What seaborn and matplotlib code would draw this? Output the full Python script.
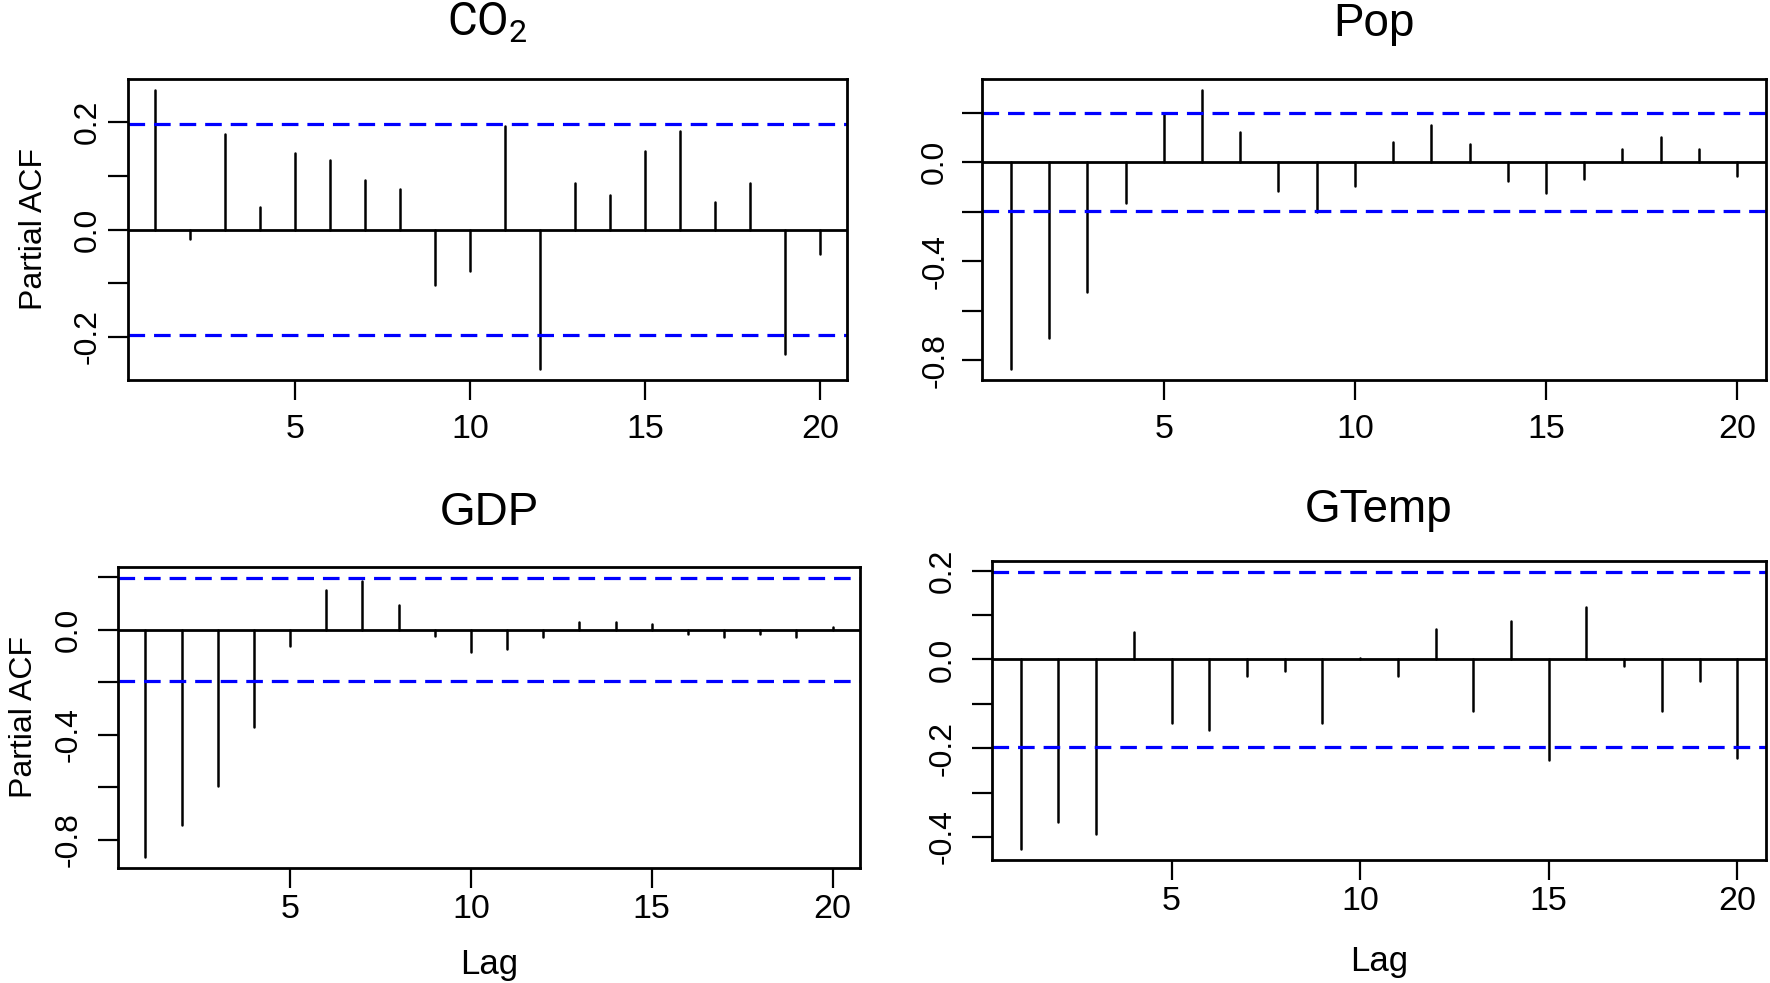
import numpy as np
import pandas as pd
import seaborn as sns
import matplotlib.pyplot as plt

# Partial autocorrelations, lags 1..20
lags = list(range(1, 21))
co2_pacf = [0.26, -0.017, 0.179, 0.042, 0.142, 0.129, 0.092, 0.075, -0.104, -0.078,
            0.193, -0.26, 0.087, 0.064, 0.147, 0.184, 0.051, 0.087, -0.233, -0.046]
pop_pacf = [-0.834, -0.711, -0.522, -0.164, 0.196, 0.291, 0.123, -0.115, -0.199, -0.095,
            0.083, 0.152, 0.073, -0.075, -0.126, -0.066, 0.054, 0.103, 0.054, -0.056]
gdp_pacf = [-0.866, -0.746, -0.594, -0.372, -0.062, 0.150, 0.187, 0.094, -0.025, -0.084,
            -0.072, -0.026, 0.031, 0.029, 0.021, -0.016, -0.026, -0.016, -0.026, 0.010]
gtemp_pacf = [-0.427, -0.366, -0.393, 0.062, -0.143, -0.160, -0.037, -0.026, -0.143, 0.003,
              -0.037, 0.068, -0.115, 0.086, -0.227, 0.119, -0.015, -0.115, -0.049, -0.222]
conf_limit = 0.197

titles = ['CO$_2$', 'Pop', 'GDP', 'GTemp']
x_ticks = [5, 10, 15, 20]
co2_yticks = [-0.2, -0.1, 0.0, 0.1, 0.2]
co2_ylabels = ['-0.2', '', '0.0', '', '0.2']
pop_yticks = [-0.8, -0.6, -0.4, -0.2, 0.0, 0.2]
pop_ylabels = ['-0.8', '', '-0.4', '', '0.0', '']
gdp_yticks = [-0.8, -0.6, -0.4, -0.2, 0.0, 0.2]
gdp_ylabels = ['-0.8', '', '-0.4', '', '0.0', '']
gtemp_yticks = [-0.4, -0.3, -0.2, -0.1, 0.0, 0.1, 0.2]
gtemp_ylabels = ['-0.4', '', '-0.2', '', '0.0', '', '0.2']

W, H = 1770, 983
regular = ['Liberation Sans', 'DejaVu Sans']

sns.set_theme(style='ticks')
plt.rcParams['font.family'] = regular
plt.rcParams['mathtext.fontset'] = 'custom'
plt.rcParams['mathtext.rm'] = 'Roboto'
plt.rcParams['mathtext.default'] = 'regular'

# layout: box (left, right, top, bottom px), ytick pad, xtick pad, title y, ylabel x, xlabel y
panels = [
    (co2_pacf, co2_yticks, co2_ylabels, (128, 847, 79, 380), 4, 10, 1.143, -0.131, None),
    (pop_pacf, pop_yticks, pop_ylabels, (982, 1766, 79, 380), 8.5, 10, 1.143, None, None),
    (gdp_pacf, gdp_yticks, gdp_ylabels, (118, 860, 567, 868), 10, 4, 1.14, -0.127, -0.352),
    (gtemp_pacf, gtemp_yticks, gtemp_ylabels, (992, 1766, 561, 860), 10, 4, 1.13, None, -0.371),
]

fig = plt.figure(figsize=(W / 100, H / 100), dpi=100)
fig.patch.set_facecolor('white')

for title, (vals, yt, yl, box, ypad, xpad, ty, ylx, xly) in zip(titles, panels):
    l, r, t, b = box
    ax = fig.add_axes([l / W, 1 - b / H, (r - l) / W, (b - t) / H])
    ax.set_facecolor('white')

    # each stem is one short line from 0 to the value
    df = pd.DataFrame({'lag': np.repeat(lags, 2),
                       'pacf': np.ravel([[0.0, v] for v in vals])})
    sns.lineplot(data=df, x='lag', y='pacf', units='lag', estimator=None,
                 sort=False, color='black', lw=1.8, ax=ax)
    ax.axhline(0, color='black', lw=2)
    for c in (conf_limit, -conf_limit):
        ax.axhline(c, color='#0000ff', lw=2.3, ls=(0, (5.2, 2.8)))

    lo = min(min(vals), -conf_limit)
    hi = max(max(vals), conf_limit)
    ext = 0.04 * (hi - lo)
    ax.set_ylim(lo - ext, hi + ext)
    ax.set_xlim(0.24, 20.76)

    ax.set_xticks(x_ticks)
    ax.set_xticklabels([str(v) for v in x_ticks], fontsize=24.5)
    ax.set_yticks(yt)
    ax.set_yticklabels(yl, rotation=90, va='center', fontsize=23)
    ax.tick_params(axis='both', length=14.4, width=1.6, color='black',
                   labelcolor='black', direction='out')
    ax.tick_params(axis='x', pad=xpad)
    ax.tick_params(axis='y', pad=ypad)
    for s in ax.spines.values():
        s.set_visible(True)
        s.set_linewidth(2)
        s.set_color('black')
    ax.grid(False)

    if title.startswith('CO'):
        ax.set_title(title, fontsize=33, y=ty, va='baseline', pad=0, color='black',
                     family=['Roboto', 'DejaVu Sans'])
    else:
        ax.set_title(title, fontsize=33, y=ty, va='baseline', pad=0, color='black')
    ax.set_ylabel('')
    ax.set_xlabel('')
    if ylx is not None:
        ax.text(ylx, 0.5, 'Partial ACF', transform=ax.transAxes, rotation=90,
                ha='center', va='center', fontsize=23, color='black')
    if xly is not None:
        ax.text(0.5, xly, 'Lag', transform=ax.transAxes, ha='center',
                va='baseline', fontsize=25, color='black')

fig.savefig('out.png', dpi=100, facecolor='white')
